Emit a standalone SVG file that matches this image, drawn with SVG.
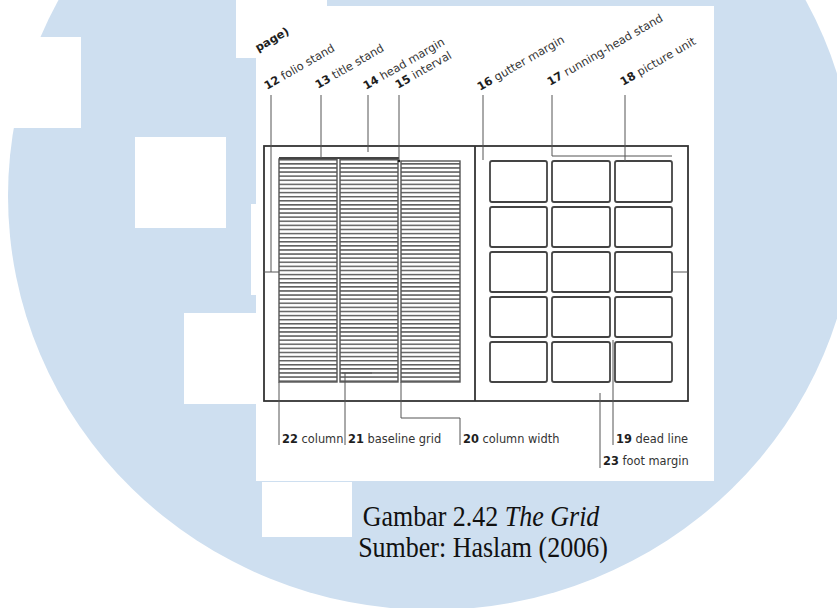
<svg xmlns="http://www.w3.org/2000/svg" width="837" height="608" viewBox="0 0 837 608">
<defs>
<pattern id="bg" patternUnits="userSpaceOnUse" x="0" y="159" width="10" height="4.1">
<rect x="0" y="0" width="10" height="1.5" fill="#5e5e5e"/>
</pattern>
</defs>
<style>
.lbl{font-family:"DejaVu Sans","Liberation Sans",sans-serif;font-size:11.4px;fill:#333}
.num{font-weight:bold;fill:#1e1e1e}
.ld{stroke:#555;stroke-width:1;fill:none}
.frame{fill:none;stroke:#333;stroke-width:1.8}
.pu{fill:#fff;stroke:#444;stroke-width:1.8}
.col{fill:url(#bg);stroke:#555;stroke-width:1.4}
.cap{font-family:"Liberation Serif","Times New Roman",serif;font-size:26px;fill:#111}
.wm{fill:#fff}
</style>
<rect width="837" height="608" fill="#fff"/>
<g id="watermark">
<ellipse cx="432" cy="196" rx="424" ry="414" fill="#cedff0"/>
<rect class="wm" x="0" y="37" width="81" height="91"/>
<rect class="wm" x="135" y="137" width="91" height="91"/>
<rect class="wm" x="236" y="0" width="91" height="58"/>
<rect class="wm" x="251" y="204" width="10" height="91"/>
<rect class="wm" x="184" y="313" width="74" height="91"/>
<rect class="wm" x="262" y="482" width="90" height="55"/>
</g>
<rect x="256" y="6" width="458" height="475" fill="#fff"/>
<g id="spread">
<rect class="frame" x="264" y="146" width="424" height="255"/>
<line x1="475" y1="146" x2="475" y2="401" stroke="#333" stroke-width="1.8"/>
</g>
<g id="text-columns">
<rect class="col" x="279" y="159" width="58" height="223"/>
<rect class="col" x="340" y="159" width="58" height="223"/>
<rect class="col" x="401" y="161" width="59" height="221"/>
<line x1="279" y1="158" x2="399" y2="158" stroke="#444" stroke-width="2.2"/>
</g>
<g id="picture-units">
<rect class="pu" x="490" y="161" width="57" height="41" rx="2"/>
<rect class="pu" x="552" y="161" width="58" height="41" rx="2"/>
<rect class="pu" x="615" y="161" width="57" height="41" rx="2"/>
<rect class="pu" x="490" y="207" width="57" height="40" rx="2"/>
<rect class="pu" x="552" y="207" width="58" height="40" rx="2"/>
<rect class="pu" x="615" y="207" width="57" height="40" rx="2"/>
<rect class="pu" x="490" y="252" width="57" height="40" rx="2"/>
<rect class="pu" x="552" y="252" width="58" height="40" rx="2"/>
<rect class="pu" x="615" y="252" width="57" height="40" rx="2"/>
<rect class="pu" x="490" y="297" width="57" height="40" rx="2"/>
<rect class="pu" x="552" y="297" width="58" height="40" rx="2"/>
<rect class="pu" x="615" y="297" width="57" height="40" rx="2"/>
<rect class="pu" x="490" y="342" width="57" height="40" rx="2"/>
<rect class="pu" x="552" y="342" width="58" height="40" rx="2"/>
<rect class="pu" x="615" y="342" width="57" height="40" rx="2"/>
</g>
<g id="connectors">
<path class="ld" d="M271,95 V272 M263,272 H279"/>
<path class="ld" d="M321,95 V158"/>
<path class="ld" d="M368,95 V152"/>
<path class="ld" d="M399,95 V161"/>
<circle cx="399" cy="161" r="1.3" fill="#222"/>
<path class="ld" d="M483,95 V160"/>
<path class="ld" d="M552,95 V156 H672"/>
<path class="ld" d="M625,95 V161"/>
<path class="ld" d="M672,272 H688"/>
<path class="ld" d="M279,382 V445"/>
<path class="ld" d="M342,373 H372 M345,373 V445"/>
<path class="ld" d="M401,382 V418 H460 V445"/>
<path class="ld" d="M613,340 V445"/>
<path class="ld" d="M600,393 V468"/>
</g>
<g id="labels-top">
<text class="lbl num" transform="translate(258,52) rotate(-30)">page)</text>
<text class="lbl" transform="translate(267,90) rotate(-30)"><tspan class="num">12</tspan> folio stand</text>
<text class="lbl" transform="translate(318,89) rotate(-30)"><tspan class="num">13</tspan> title stand</text>
<text class="lbl" transform="translate(366,90) rotate(-30)"><tspan class="num">14</tspan> head margin</text>
<text class="lbl" transform="translate(398,89) rotate(-30)"><tspan class="num">15</tspan> interval</text>
<text class="lbl" transform="translate(480,91) rotate(-30)"><tspan class="num">16</tspan> gutter margin</text>
<text class="lbl" transform="translate(550,86) rotate(-30)"><tspan class="num">17</tspan> running-head stand</text>
<text class="lbl" transform="translate(623,86) rotate(-30)"><tspan class="num">18</tspan> picture unit</text>
</g>
<g id="labels-bottom">
<text class="lbl" x="282" y="443"><tspan class="num">22</tspan> column</text>
<text class="lbl" x="348" y="443"><tspan class="num">21</tspan> baseline grid</text>
<text class="lbl" x="463" y="443"><tspan class="num">20</tspan> column width</text>
<text class="lbl" x="616" y="443"><tspan class="num">19</tspan> dead line</text>
<text class="lbl" x="603" y="465"><tspan class="num">23</tspan> foot margin</text>
</g>
<g id="caption">
<text class="cap" text-anchor="middle" transform="translate(481,526) scale(1,1.15)">Gambar 2.42 <tspan font-style="italic">The Grid</tspan></text>
<text class="cap" text-anchor="middle" transform="translate(483,557) scale(1,1.15)">Sumber: Haslam (2006)</text>
</g>
</svg>
